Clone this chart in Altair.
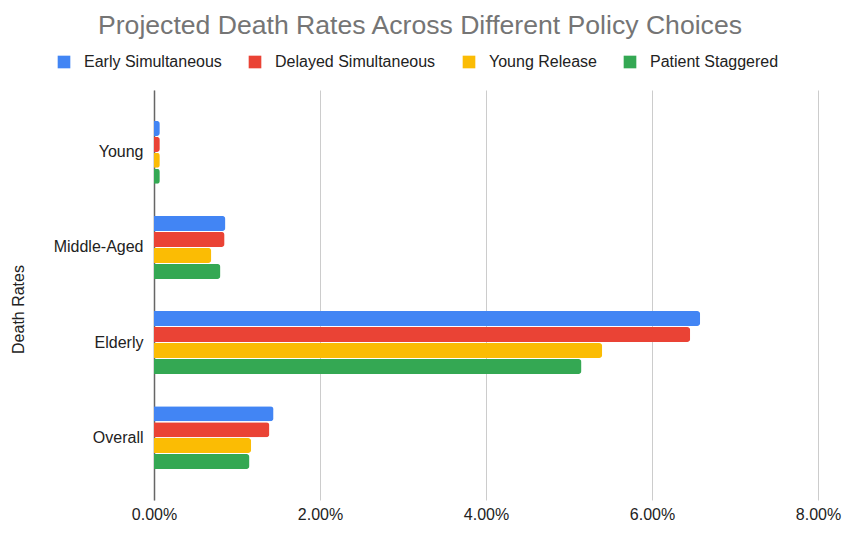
import altair as alt
import pandas as pd

categories = ["Young", "Middle-Aged", "Elderly", "Overall"]
series = ["Early Simultaneous", "Delayed Simultaneous", "Young Release", "Patient Staggered"]
colors = ["#4285F4", "#EA4335", "#FBBC04", "#34A853"]

early_simultaneous = [0.0007, 0.0086, 0.0658, 0.0144]
delayed_simultaneous = [0.0007, 0.0085, 0.0646, 0.0139]
young_release = [0.0007, 0.0069, 0.0540, 0.0117]
patient_staggered = [0.0007, 0.0080, 0.0515, 0.0115]

x_ticks = [0, 0.02, 0.04, 0.06, 0.08]

values_by_series = [early_simultaneous, delayed_simultaneous, young_release, patient_staggered]
rows = []
for s, vals in zip(series, values_by_series):
    for c, v in zip(categories, vals):
        rows.append({"category": c, "series": s, "value": v})
df = pd.DataFrame(rows)

FONT = "Liberation Sans"

chart = alt.Chart(df).mark_bar(cornerRadiusEnd=3).encode(
    y=alt.Y(
        "category:N",
        sort=categories,
        scale=alt.Scale(paddingInner=0.338, paddingOuter=0.325),
        axis=alt.Axis(
            title="Death Rates",
            titleFont=FONT,
            titleFontSize=16,
            titleFontWeight="normal",
            titleColor="#222222",
            titleAngle=-90,
            titleX=-136,
            titleY=219,
            titleAlign="center",
            titleBaseline="middle",
            labelFont=FONT,
            labelFontSize=16,
            labelColor="#222222",
            labelPadding=11,
            ticks=False,
            domain=True,
            domainColor="#666666",
            domainWidth=1.5,
            grid=False,
        ),
    ),
    x=alt.X(
        "value:Q",
        scale=alt.Scale(domain=[0, 0.08]),
        axis=alt.Axis(
            title=None,
            format=".2%",
            values=x_ticks,
            labelFont=FONT,
            labelFontSize=16,
            labelColor="#222222",
            labelPadding=6,
            labelFlush=False,
            ticks=False,
            domain=False,
            grid=True,
            gridColor="#cccccc",
        ),
    ),
    yOffset=alt.YOffset("series:N", sort=series, scale=alt.Scale(paddingInner=0.06, paddingOuter=0)),
    color=alt.Color(
        "series:N",
        sort=series,
        scale=alt.Scale(domain=series, range=colors),
        legend=alt.Legend(
            title=None,
            orient="none",
            legendX=-98,
            legendY=-36,
            direction="horizontal",
            columns=4,
            columnPadding=25,
            symbolType="square",
            symbolSize=160,
            symbolStrokeWidth=0,
            labelOffset=12,
            labelLimit=400,
            labelFont=FONT,
            labelFontSize=16,
            labelColor="#222222",
        ),
    ),
).properties(
    width=664,
    height=410,
    autosize=alt.AutoSizeParams(type="none"),
    padding={"left": 146, "top": 82, "right": 24, "bottom": 24},
    title=alt.TitleParams(
        "Projected Death Rates Across Different Policy Choices",
        font=FONT,
        fontSize=26.6,
        fontWeight="normal",
        color="#757575",
        anchor="middle",
        dx=-66,
        offset=14,
    ),
).configure_view(stroke=None)

chart.save("out.html", embed_options={"renderer": "svg", "actions": False})
